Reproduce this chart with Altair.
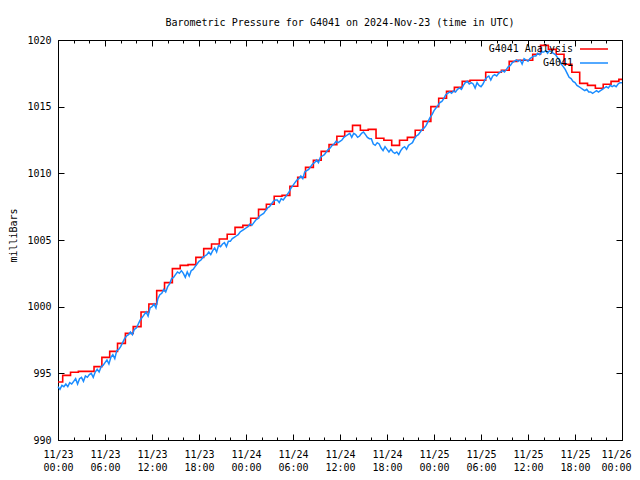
import altair as alt
import pandas as pd

# ---------------- data ----------------
# Analysis series (step values); first covers 00:00-00:36, then one per hour (xx:36)
RED_VALUES = [
    994.35, 994.85, 995.08, 995.15, 995.15, 995.5, 996.2, 996.65, 997.25, 998.0,
    998.5, 999.6, 1000.2, 1001.2, 1001.8, 1002.85, 1003.1, 1003.15, 1003.7, 1004.35,
    1004.7, 1005.08, 1005.43, 1005.95, 1006.1, 1006.63, 1007.3, 1007.68, 1008.28, 1008.35,
    1009.03, 1009.7, 1010.45, 1010.98, 1011.65, 1012.15, 1012.78, 1013.15, 1013.6, 1013.23,
    1013.3, 1012.63, 1012.48, 1012.1, 1012.48, 1012.7, 1013.23, 1013.9, 1015.0, 1015.63,
    1016.15, 1016.45, 1016.9, 1016.98, 1016.98, 1017.58, 1017.58, 1017.73, 1018.4, 1018.48,
    1018.48, 1018.93, 1019.6, 1019.3, 1018.93, 1018.18, 1017.58, 1016.75, 1016.6, 1016.38,
    1016.68, 1016.9, 1017.05,
]
RED_STEP_HOURS = [0.0] + [k + 0.6 for k in range(len(RED_VALUES) - 1)]

# Station observations, every 15 minutes from 11/23 00:00 to 11/26 00:00
BLUE_VALUES = [
    994.0, 993.8, 994.1, 994.0,   994.2, 994.0, 994.3, 994.2,
    994.4, 994.6, 994.2, 994.6,   994.7, 994.4, 994.8, 994.7,
    994.9, 995.0, 994.7, 995.1,   995.3, 995.1, 995.5, 995.6,
    995.8, 996.0, 995.7, 996.2,   996.4, 996.1, 996.7, 996.8,
    997.0, 997.3, 997.6, 997.8,   997.9, 998.1, 997.9, 998.3,
    998.4, 998.7, 999.0, 999.2,   999.4, 999.6, 999.3, 999.9,
    1000.0, 1000.2, 999.9, 1000.6,  1000.9, 1001.0, 1001.3, 1001.1,
    1001.5, 1001.7, 1002.1, 1002.2,  1002.4, 1002.6, 1002.5, 1002.7,
    1002.5, 1002.2, 1002.6, 1002.3,  1002.7, 1002.8, 1003.0, 1003.2,
    1003.4, 1003.5, 1003.7, 1003.8,  1003.9, 1004.1, 1003.9, 1004.2,
    1004.4, 1004.1, 1004.6, 1004.5,  1004.7, 1004.8, 1004.5, 1004.9,
    1004.9, 1005.1, 1005.2, 1005.3,  1005.4, 1005.6, 1005.7, 1005.8,
    1005.9, 1006.0, 1006.2, 1006.1,  1006.3, 1006.5, 1006.6, 1006.8,
    1006.9, 1007.0, 1007.2, 1007.4,  1007.5, 1007.7, 1007.9, 1008.0,
    1008.0, 1007.8, 1008.1, 1008.0,  1008.2, 1008.4, 1008.6, 1008.9,
    1009.1, 1009.3, 1009.5, 1009.6,  1009.8, 1009.6, 1010.1, 1010.2,
    1010.3, 1010.5, 1010.7, 1010.8,  1011.0, 1010.8, 1011.2, 1011.3,
    1011.4, 1011.6, 1011.8, 1011.9,  1012.1, 1012.2, 1012.4, 1012.3,
    1012.4, 1012.5, 1012.7, 1012.8,  1012.9, 1013.0, 1012.7, 1013.0,
    1012.9, 1012.7, 1012.8, 1013.0,  1013.1, 1012.9, 1012.7, 1012.6,
    1012.6, 1012.2, 1012.1, 1012.3,  1012.2, 1011.9, 1011.7, 1012.0,
    1011.8, 1011.6, 1011.8, 1011.6,  1011.5, 1011.6, 1011.4, 1011.7,
    1011.9, 1012.0, 1011.8, 1012.1,  1012.2, 1012.3, 1012.6, 1012.8,
    1012.9, 1013.1, 1013.3, 1013.4,  1013.6, 1013.9, 1014.2, 1014.4,
    1014.7, 1014.9, 1015.1, 1015.3,  1015.4, 1015.6, 1015.9, 1016.0,
    1016.1, 1016.0, 1016.2, 1016.1,  1016.3, 1016.4, 1016.3, 1016.6,
    1016.8, 1016.9, 1016.7, 1016.8,  1016.7, 1016.4, 1016.8, 1016.6,
    1016.5, 1016.7, 1017.0, 1017.2,  1017.3, 1017.0, 1017.3, 1017.4,
    1017.3, 1017.5, 1017.6, 1017.7,  1017.6, 1017.8, 1018.0, 1018.1,
    1018.3, 1018.4, 1018.5, 1018.4,  1018.5, 1018.2, 1018.6, 1018.5,
    1018.4, 1018.6, 1018.7, 1018.8,  1018.8, 1019.0, 1018.9, 1019.1,
    1019.1, 1019.2, 1019.0, 1019.2,  1019.1, 1019.0, 1018.9, 1018.7,
    1018.5, 1018.2, 1018.0, 1017.8,  1017.5, 1017.2, 1017.1, 1016.9,
    1016.8, 1016.6, 1016.5, 1016.4,  1016.3, 1016.2, 1016.3, 1016.1,
    1016.1, 1016.0, 1016.1, 1016.2,  1016.1, 1016.2, 1016.3, 1016.4,
    1016.5, 1016.4, 1016.6, 1016.5,  1016.6, 1016.5, 1016.7, 1016.8,
    1016.8,
]

SERIES = ["G4041 Analysis", "G4041"]
COLORS = ["#ff0000", "#1a8cff"]
Y_TICKS = [990, 995, 1000, 1005, 1010, 1015, 1020]
TITLE = "Barometric Pressure for G4041 on 2024-Nov-23 (time in UTC)"
FONT = "DejaVu Sans Mono"

# ---------------- build tables ----------------
START = pd.Timestamp("2024-11-23T00:00:00Z")


def iso(h):
    return (START + pd.Timedelta(hours=h)).strftime("%Y-%m-%dT%H:%M:%SZ")


def ms(h):
    return int((START + pd.Timedelta(hours=h)).timestamp() * 1000)


red_df = pd.DataFrame({
    "t": [iso(h) for h in RED_STEP_HOURS] + [iso(72)],
    "p": RED_VALUES + [RED_VALUES[-1]],
    "series": SERIES[0],
})
blue_df = pd.DataFrame({
    "t": [iso(i * 0.25) for i in range(len(BLUE_VALUES))],
    "p": BLUE_VALUES,
    "series": SERIES[1],
})

major = [ms(h) for h in range(0, 73, 6)]
minor = [ms(h) for h in range(0, 73, 2)]
xscale = alt.Scale(type="utc", domain=[ms(0), ms(72)], nice=False)
yscale = alt.Scale(domain=[990, 1020], nice=False, zero=False)

common_axis = dict(grid=False, domain=False, tickColor="black", labelColor="black",
                   labelFont=FONT, labelFontSize=10, tickWidth=1)

x_bottom = alt.Axis(orient="bottom", values=major, title=None,
                    tickSize={"expr": "-6"}, labelPadding=15, labelAngle=0,
                    labelAlign="center", labelBaseline="top", labelLineHeight=13,
                    labelFlush=False, labelOverlap=False,
                    labelOffset={"condition": {"test": f"datum.value >= {ms(72)}", "value": -6},
                                 "value": 0},
                    labelExpr="[utcFormat(datum.value, '%m/%d'), utcFormat(datum.value, '%H:%M')]",
                    **common_axis)
x_top = alt.Axis(orient="top", values=major, title=None, labels=False,
                 tickSize={"expr": "-6"}, **common_axis)
x_minor_b = alt.Axis(orient="bottom", values=minor, title=None, labels=False,
                     tickSize={"expr": "-3"}, **common_axis)
x_minor_t = alt.Axis(orient="top", values=minor, title=None, labels=False,
                     tickSize={"expr": "-3"}, **common_axis)
y_left = alt.Axis(orient="left", values=Y_TICKS, format="d", title="milliBars",
                  tickSize={"expr": "-6"}, labelPadding=13,
                  titleFont=FONT, titleFontSize=10, titleFontWeight="normal",
                  titleColor="black", titleX=-45, titleY=195, titleAngle=270,
                  titleAlign="center", titleBaseline="middle", **common_axis)
y_right = alt.Axis(orient="right", values=Y_TICKS, title=None, labels=False,
                   tickSize={"expr": "-6"}, **common_axis)


def key(y):
    return alt.Legend(title=None, orient="none", legendX=521, legendY=y,
                      symbolType="stroke", symbolSize=784, symbolStrokeWidth=1.5,
                      labelAlign="right", labelOffset={"expr": "-36"}, labelFont=FONT,
                      labelFontSize=10, labelColor="black", padding=0)


red = alt.Chart(red_df).mark_line(interpolate="step-after", strokeWidth=1.6).encode(
    x=alt.X("t:T", scale=xscale, axis=x_bottom),
    y=alt.Y("p:Q", scale=yscale, axis=y_left),
    color=alt.Color("series:N", scale=alt.Scale(domain=SERIES[:1], range=COLORS[:1]),
                    legend=key(-6)),
)
blue = alt.Chart(blue_df).mark_line(strokeWidth=1.5).encode(
    x=alt.X("t:T", scale=xscale, axis=x_top),
    y=alt.Y("p:Q", scale=yscale, axis=y_right),
    color=alt.Color("series:N", scale=alt.Scale(domain=SERIES[1:], range=COLORS[1:]),
                    legend=key(8)),
)
minor_b = alt.Chart(red_df).mark_line(opacity=0).encode(
    x=alt.X("t:T", scale=xscale, axis=x_minor_b),
    y=alt.Y("p:Q", scale=yscale, axis=None),
)
minor_t = alt.Chart(red_df).mark_line(opacity=0).encode(
    x=alt.X("t:T", scale=xscale, axis=x_minor_t),
    y=alt.Y("p:Q", scale=yscale, axis=None),
)

chart = alt.layer(red, blue, minor_b, minor_t).resolve_axis(
    x="independent", y="independent"
).resolve_scale(color="independent").resolve_legend(color="independent").properties(
    width=564, height=400,
    title=alt.TitleParams(TITLE, font=FONT, fontSize=10, fontWeight="normal",
                          color="black", anchor="middle", offset=6),
    autosize=alt.AutoSizeParams(type="none"),
    padding={"left": 50, "top": 32, "right": 10, "bottom": 32},
    background="white",
).configure_view(stroke="black", strokeWidth=1)

chart.save("out.html", embed_options={"renderer": "svg", "actions": False})
